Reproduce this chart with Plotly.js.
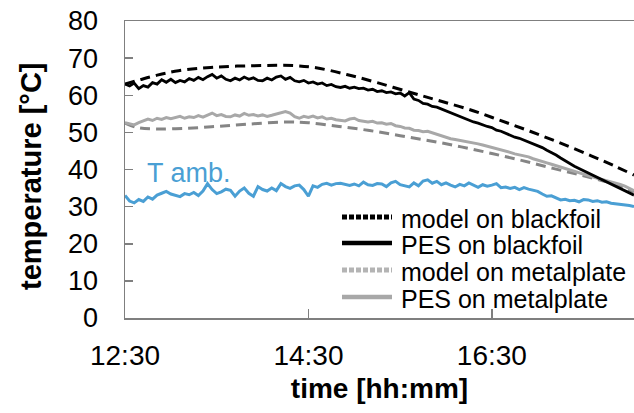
<!DOCTYPE html>
<html>
<head>
<meta charset="utf-8">
<script src="https://cdn.plot.ly/plotly-3.0.1.min.js"></script>
<style>html,body{margin:0;padding:0;background:#fff;}#chart{width:634px;height:413px;}</style>
</head>
<body>
<div id="chart"></div>
<script>
// ---- data ----
const seriesNames = ['model on blackfoil', 'PES on blackfoil', 'model on metalplate', 'PES on metalplate'];
const ambLabel = 'T amb.';
const xTitle = 'time [hh:mm]';
const yTitle = 'temperature [°C]';
const xTickLabels = ['12:30', '14:30', '16:30'];
const xTickMinutes = [0, 120, 240];
const yTickValues = [0, 10, 20, 30, 40, 50, 60, 70, 80];

// measured series: one value every 3 minutes from 12:30
const measStepMin = 3;
const pesBlack = [63.0,62.5,63.3,61.8,62.6,62.2,63.4,63.0,64.2,63.5,64.3,63.4,64.0,63.6,64.5,64.0,64.8,64.2,65.0,65.6,
  64.6,65.2,64.3,63.9,64.6,64.1,64.9,64.3,64.7,64.0,63.9,64.6,64.1,64.9,65.2,64.3,64.8,63.9,63.6,64.0,
  63.3,63.6,63.0,63.3,62.6,62.9,62.3,62.1,62.4,61.9,62.2,61.8,61.9,61.4,61.6,61.0,61.2,60.7,60.9,60.4,
  60.6,59.8,60.7,59.0,58.6,57.8,57.6,57.0,56.8,56.3,55.6,55.1,54.6,54.2,53.7,53.3,52.8,52.5,52.0,51.6,
  51.3,50.6,50.3,49.7,49.3,48.7,48.4,47.9,47.6,47.0,46.5,45.9,45.2,44.6,43.9,43.1,42.3,41.6,40.9,40.3,
  39.7,39.0,38.4,37.8,37.3,36.7,36.1,35.5,34.9,34.3,33.7,33.1];
const pesMetal = [52.6,52.3,52.0,52.6,53.0,53.6,53.2,53.8,53.5,54.0,53.7,53.9,54.3,53.8,54.2,54.0,54.5,54.1,54.6,55.2,
  54.5,54.8,54.3,54.2,54.7,54.4,55.1,54.6,54.8,54.4,54.7,54.3,54.6,54.9,55.4,55.6,55.2,54.2,53.8,54.3,
  54.0,54.4,53.9,54.2,53.6,53.8,53.4,53.3,53.1,53.6,53.8,53.2,53.0,52.8,53.0,52.5,52.6,52.2,52.4,51.8,
  51.6,51.2,51.1,50.6,50.5,50.2,50.3,49.9,49.6,49.0,48.7,48.3,48.1,47.9,47.6,47.4,47.1,46.9,46.6,46.3,
  46.0,45.6,45.3,44.9,44.6,44.2,44.0,43.7,43.4,42.9,42.6,42.2,41.8,41.4,41.0,40.6,40.2,39.8,39.5,39.1,
  38.8,38.4,38.0,37.6,37.3,37.0,36.7,36.4,36.0,35.5,34.9,34.3];
const tAmb = [33.0,31.5,31.0,31.9,31.4,32.6,32.0,33.1,33.6,34.1,33.4,33.0,32.7,33.5,33.2,33.8,33.0,34.2,36.2,34.6,
  33.5,34.0,34.7,34.4,32.8,34.2,35.0,33.6,32.8,35.4,34.6,34.2,35.0,34.3,36.2,35.4,34.9,35.6,35.8,34.6,
  32.8,35.6,35.2,36.0,36.3,35.8,36.2,36.3,35.9,35.7,36.1,35.6,36.6,35.9,35.7,36.2,36.1,35.4,36.4,36.8,
  35.9,35.5,35.3,36.4,35.6,36.9,37.2,36.3,36.8,35.9,36.4,35.8,35.3,36.0,35.6,36.4,35.9,35.2,35.9,35.5,
  35.8,36.2,35.1,35.3,34.9,35.2,34.6,35.1,34.7,34.3,34.1,33.4,32.8,32.9,32.3,31.8,32.0,31.6,31.7,31.3,
  31.9,31.8,31.4,31.6,31.2,31.3,30.9,30.8,30.7,30.6,30.3,30.0];

// model series (minutes after 12:30, value)
const modelBlackMin = [0,10,20,35,60,90,110,125,145,165,188,205,225,245,265,285,305,320,333];
const modelBlackVal = [63.0,64.2,65.3,66.6,67.6,68.0,68.0,67.4,65.6,63.4,60.6,58.6,56.2,53.3,50.3,47.1,43.7,41.0,38.5];
const modelMetalMin = [0,8,20,40,60,80,105,120,140,160,180,200,220,240,260,280,300,320,333];
const modelMetalVal = [52.5,51.3,50.9,51.1,51.6,52.2,52.8,52.6,51.6,50.5,49.1,47.7,46.1,44.3,42.4,40.3,38.3,36.1,34.0];

// ---- helpers ----
function clock(min) {
  const total = 12 * 60 + 30 + min;
  const h = Math.floor(total / 60), m = total % 60;
  return '2000-01-01 ' + String(h).padStart(2, '0') + ':' + String(m).padStart(2, '0') + ':00';
}
const measTimes = pesBlack.map((_, i) => clock(i * measStepMin));
const endMin = (pesBlack.length - 1) * measStepMin;

// plot-area geometry (px) for legend placement
const L = 125, W = 509, T = 21, H = 297;
const px2x = p => (p - L) / W;
const py2y = p => (T + H - p) / H;

const colBlack = '#000000', colModelMetal = '#858585', colPesMetal = '#a8a8a8', colAmb = '#4a9fd4';

const traces = [
  {x: modelMetalMin.map(clock), y: modelMetalVal, mode: 'lines', name: seriesNames[2],
   line: {color: colModelMetal, width: 3, dash: '10px,6px', shape: 'spline'}},
  {x: measTimes, y: pesMetal, mode: 'lines', name: seriesNames[3],
   line: {color: colPesMetal, width: 3}},
  {x: measTimes, y: tAmb, mode: 'lines', name: ambLabel,
   line: {color: colAmb, width: 3}},
  {x: modelBlackMin.map(clock), y: modelBlackVal, mode: 'lines', name: seriesNames[0],
   line: {color: colBlack, width: 3, dash: '10px,6px', shape: 'spline'}},
  {x: measTimes, y: pesBlack, mode: 'lines', name: seriesNames[1],
   line: {color: colBlack, width: 2.8}}
];

// custom legend (samples + labels)
const legendStyles = [
  {color: '#000000', width: 5, dash: '5px,2px'},
  {color: '#000000', width: 4.5, dash: 'solid'},
  {color: '#b4b4b4', width: 5, dash: '5px,2px'},
  {color: '#a8a8a8', width: 4.5, dash: 'solid'}
];
const legendRowsPx = [218, 244, 271, 298];
const shapes = legendRowsPx.map((r, i) => ({
  type: 'line', xref: 'paper', yref: 'paper',
  x0: px2x(342), x1: px2x(392), y0: py2y(r - 1), y1: py2y(r - 1),
  line: legendStyles[i]
}));
const font = 'Liberation Sans, Arial, sans-serif';
const annotations = legendRowsPx.map((r, i) => ({
  xref: 'paper', yref: 'paper', x: px2x(399), y: py2y(r + 1), xanchor: 'left', yanchor: 'middle',
  text: seriesNames[i], showarrow: false, font: {family: font, size: 25, color: '#000'}
}));
annotations.push({
  xref: 'paper', yref: 'paper', x: px2x(145), y: py2y(173), xanchor: 'left', yanchor: 'middle',
  text: ambLabel, showarrow: false, font: {family: font, size: 27, color: colAmb}
});
// y-axis title
annotations.push({
  xref: 'paper', yref: 'paper', x: px2x(31), y: py2y(176), xanchor: 'center', yanchor: 'middle',
  textangle: -90, text: yTitle, showarrow: false,
  font: {family: font, size: 29, weight: 'bold', color: '#000'}
});

const layout = {
  width: 634, height: 413,
  margin: {l: L, r: 0, t: T, b: 413 - T - H, pad: 0},
  paper_bgcolor: '#fff', plot_bgcolor: '#fff',
  showlegend: false,
  font: {family: font, color: '#000'},
  xaxis: {
    type: 'date', range: [clock(0), clock(endMin)],
    tickvals: xTickMinutes.map(clock), ticktext: xTickLabels,
    ticks: 'inside', ticklen: 9, tickwidth: 1.5, tickcolor: '#7f7f7f',
    showline: true, linecolor: '#7f7f7f', linewidth: 1.5, mirror: true,
    showgrid: false, zeroline: false,
    tickfont: {family: font, size: 28, color: '#000'},
    ticklabelstandoff: 12,
    title: {text: xTitle, font: {family: font, size: 28, weight: 'bold', color: '#000'}, standoff: 8}
  },
  yaxis: {
    range: [0, 80], tickvals: yTickValues,
    ticks: 'inside', ticklen: 8, tickwidth: 1.5, tickcolor: '#7f7f7f',
    showline: true, linecolor: '#7f7f7f', linewidth: 1.5, mirror: false,
    showgrid: false, zeroline: false,
    tickfont: {family: font, size: 27, color: '#000'},
    ticklabelstandoff: 20
  },
  shapes: shapes,
  annotations: annotations
};

Plotly.newPlot('chart', traces, layout, {staticPlot: true, displayModeBar: false});
</script>
</body>
</html>
